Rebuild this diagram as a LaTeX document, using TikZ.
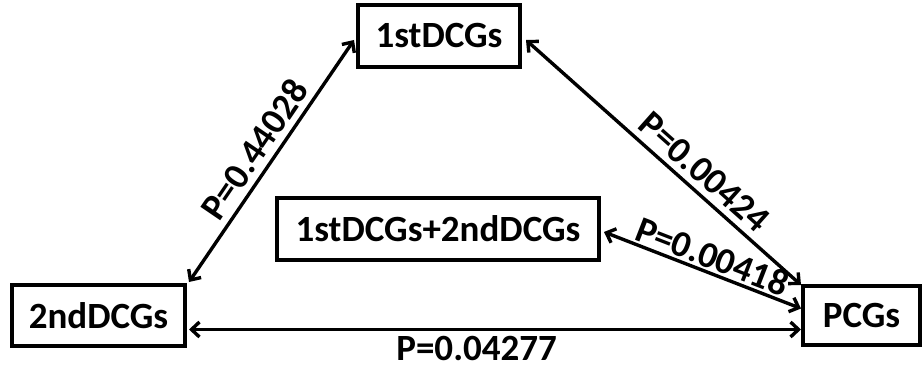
\documentclass[tikz,border=0pt]{standalone}
\usepackage{fontspec}
\setmainfont{Carlito}
\usetikzlibrary{arrows.meta,calc}
\begin{document}
\begin{tikzpicture}[x=1pt,y=-1pt,
  box/.style={draw,line width=4pt,rectangle,inner sep=0pt,
    font=\fontsize{37}{42}\selectfont\bfseries},
  link/.style={line width=3.4pt,
    {Straight Barb[length=8pt,width=15pt,line width=3.4pt]}-{Straight Barb[length=8pt,width=15pt,line width=3.4pt]}},
  plabel/.style={font=\fontsize{37}{42}\selectfont\bfseries,inner sep=6pt}]
\useasboundingbox (0,0) rectangle (923,371);

\node[box,minimum width=162pt,minimum height=62pt] (first) at (439,36) {1stDCGs};
\node[box,minimum width=173pt,minimum height=61pt] (second) at (98.5,315.5) {2ndDCGs};
\node[box,minimum width=117pt,minimum height=59pt] (pcg) at (861.5,315.5) {PCGs};
\node[box,minimum width=322pt,minimum height=62pt] (both) at (438,229) {1stDCGs+2ndDCGs};

% connectors with their P values
\draw[link] ($(second.north east)+(2,-1)$) -- ($(first.west)+(-2,4)$)
  node[plabel,pos=0.5,sloped,above] {P=0.44028};
\draw[link] ($(first.east)+(4,4)$) -- ($(pcg.north west)+(0,1)$)
  node[plabel,pos=0.6,sloped,above] {P=0.00424};
\draw[link] ($(both.east)+(3,3)$) -- ($(pcg.west)+(0,-7)$)
  node[plabel,pos=0.52,sloped,above,inner sep=2pt] {P=0.00418};
\draw[link] ($(second.east)+(2,14)$) -- ($(pcg.west)+(0,14)$)
  node[plabel,pos=0.47,below,inner sep=5pt] {P=0.04277};
\end{tikzpicture}
\end{document}
